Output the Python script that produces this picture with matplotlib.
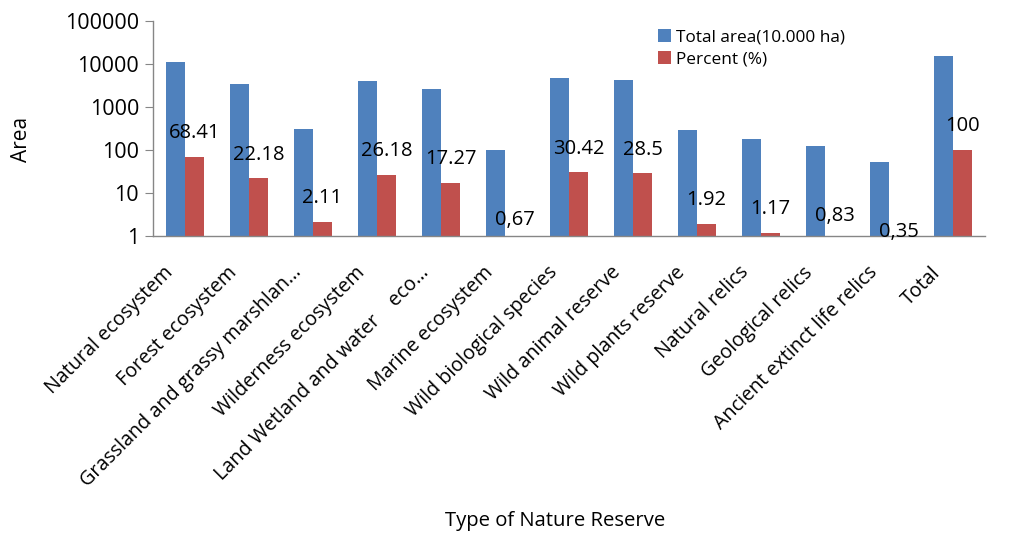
import numpy as np
import matplotlib
matplotlib.use("Agg")
import matplotlib.pyplot as plt
from matplotlib.ticker import FixedLocator, FixedFormatter, NullLocator
from matplotlib.transforms import ScaledTranslation

plt.rcParams["font.family"] = ["Open Sans", "DejaVu Sans"]

categories = [
    "Natural ecosystem",
    "Forest ecosystem",
    "Grassland and grassy marshlan…",
    "Wilderness ecosystem",
    "Land Wetland and water    eco…",
    "Marine ecosystem",
    "Wild biological species",
    "Wild animal reserve",
    "Wild plants reserve",
    "Natural relics",
    "Geological relics",
    "Ancient extinct life relics",
    "Total",
]
total_area = [10900, 3470, 313, 4080, 2660, 101, 4790, 4310, 296, 183, 125, 53, 15500]
percent = [68.41, 22.18, 2.11, 26.18, 17.27, 0.67, 30.42, 28.5, 1.92, 1.17, 0.83, 0.35, 100]
percent_labels = ["68.41", "22.18", "2.11", "26.18", "17.27", "0,67", "30.42",
                  "28.5", "1.92", "1.17", "0,83", "0,35", "100"]
y_ticks = [1, 10, 100, 1000, 10000, 100000]

BLUE = "#4F81BD"
RED = "#C0504D"
GRAY = "#868686"

fig = plt.figure(figsize=(10.25, 5.36), dpi=100)
ax = fig.add_axes([153 / 1025, 1 - 236 / 536, 832 / 1025, 215 / 536])

x = np.arange(len(categories))
w = 0.297
ax.bar(x - w / 2, total_area, width=w, color=BLUE, label="Total area(10.000 ha)")
ax.bar(x + w / 2, percent, width=w, color=RED, label="Percent (%)")

ax.set_yscale("log")
ax.set_ylim(1, 100000)
ax.set_xlim(-0.5, len(categories) - 0.5)
ax.yaxis.set_major_locator(FixedLocator(y_ticks))
ax.yaxis.set_major_formatter(FixedFormatter([str(t) for t in y_ticks]))
ax.yaxis.set_minor_locator(NullLocator())
ax.tick_params(axis="y", length=6, color=GRAY, labelsize=15.5, pad=4)
ax.tick_params(axis="x", length=0, pad=4)

for side in ("top", "right"):
    ax.spines[side].set_visible(False)
for side in ("left", "bottom"):
    ax.spines[side].set_color(GRAY)
    ax.spines[side].set_linewidth(1.0)

ax.set_xticks(x)
ax.set_xticklabels(categories, rotation=45, ha="right", rotation_mode="anchor",
                   fontsize=14.2)
shift = ScaledTranslation(-22 / 100, -21 / 100, fig.dpi_scale_trans)
for lbl in ax.get_xticklabels():
    lbl.set_transform(lbl.get_transform() + shift)

for xi, v, lab in zip(x, percent, percent_labels):
    ax.annotate(lab, (xi + w / 2, v), xytext=(0, 17), textcoords="offset points",
                ha="center", va="center", fontsize=14.5, annotation_clip=False)

ax.set_ylabel("Area", fontsize=15)
ax.yaxis.set_label_coords((32 - 153) / 832, 0.451)

fig.text(555 / 1025, 1 - 521 / 536, "Type of Nature Reserve", ha="center",
         va="center", fontsize=14.6)

ax.legend(loc="upper left", bbox_to_anchor=(658 / 1025, 1 - 29 / 536),
          bbox_transform=fig.transFigure, frameon=False, fontsize=12.4,
          handlelength=0.75, handleheight=0.75, handletextpad=0.3,
          labelspacing=0.35, borderaxespad=0, borderpad=0)

fig.savefig("out.png", dpi=100)
